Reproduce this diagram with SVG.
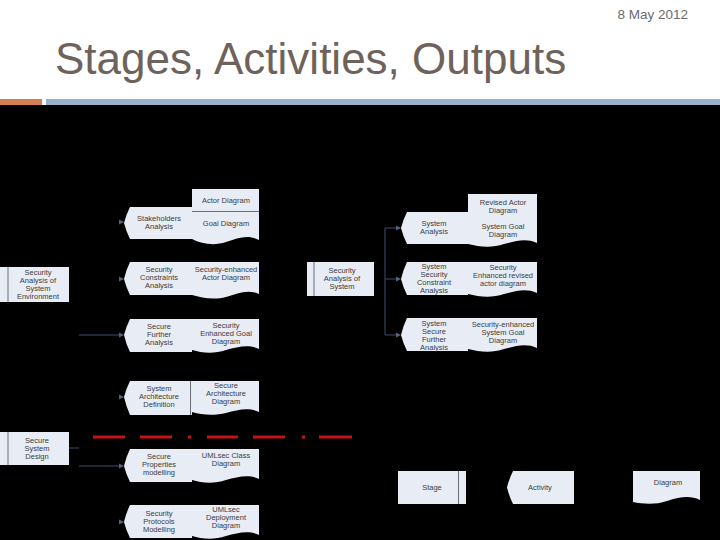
<svg xmlns="http://www.w3.org/2000/svg" width="720" height="540" viewBox="0 0 720 540">
<style>
.b{fill:#e8ecf5;stroke:none}
.t{font-family:"Liberation Sans",Arial,sans-serif;font-size:7.5px;fill:#3c3c3c;text-anchor:middle}
.sl{stroke:#6a6e78;stroke-width:1}
.c{stroke:#3e4c6c;stroke-width:1;fill:none}
.ah{fill:#52627f}
.rd{stroke:#c41414;stroke-width:3}
</style>
<rect x="0" y="0" width="720" height="540" fill="#ffffff"/>
<rect x="0" y="105" width="720" height="435" fill="#000000"/>
<rect x="0" y="99" width="42" height="6" fill="#d2804f"/>
<rect x="46" y="99" width="674" height="6" fill="#97b1cf"/>
<text x="688" y="19" font-family="Liberation Sans,Arial,sans-serif" font-size="13.5" fill="#6b6b6b" text-anchor="end">8 May 2012</text>
<text x="55" y="74" font-family="Liberation Sans,Arial,sans-serif" font-size="44" fill="#6e625b">Stages, Activities, Outputs</text>

<g id="connectors">
<line class="c" x1="79" y1="335" x2="119" y2="335"/>
<line class="c" x1="69" y1="448" x2="79" y2="448"/>
<line class="c" x1="79" y1="466" x2="119" y2="466"/>
<line class="c" x1="385" y1="228" x2="385" y2="335"/>
<line class="c" x1="385" y1="228" x2="397" y2="228"/>
<line class="c" x1="385" y1="279" x2="397" y2="279"/>
<line class="c" x1="385" y1="335" x2="397" y2="335"/>
<path class="ah" d="M119,219.5 L124,222 L119,224.5Z"/>
<path class="ah" d="M119,276.5 L124,279 L119,281.5Z"/>
<path class="ah" d="M119,332.5 L124,335 L119,337.5Z"/>
<path class="ah" d="M119,394.5 L124,397 L119,399.5Z"/>
<path class="ah" d="M119,463.5 L124,466 L119,468.5Z"/>
<path class="ah" d="M119,519.5 L124,522 L119,524.5Z"/>
<path class="ah" d="M396,225.5 L401,228 L396,230.5Z"/>
<path class="ah" d="M396,276.5 L401,279 L396,281.5Z"/>
<path class="ah" d="M396,332.5 L401,335 L396,337.5Z"/>
<line class="rd" x1="93" y1="437" x2="125" y2="437"/>
<line class="rd" x1="140" y1="437" x2="172" y2="437"/>
<line class="rd" x1="188" y1="437" x2="191" y2="437"/>
<line class="rd" x1="207" y1="437" x2="238" y2="437"/>
<line class="rd" x1="253" y1="437" x2="285" y2="437"/>
<line class="rd" x1="302" y1="437" x2="305" y2="437"/>
<line class="rd" x1="319" y1="437" x2="352" y2="437"/>
</g>

<!-- Stages -->
<g id="stage-env">
<rect class="b" x="0" y="267" width="69" height="35"/>
<line class="sl" x1="8" y1="267" x2="8" y2="302"/>
<text class="t" x="38" y="275">Security</text><text class="t" x="38" y="283">Analysis of</text><text class="t" x="38" y="291">System</text><text class="t" x="38" y="299">Environment</text>
</g>
<g id="stage-sys">
<rect class="b" x="307" y="262" width="67" height="34"/>
<line class="sl" x1="314" y1="262" x2="314" y2="296"/>
<text class="t" x="342" y="273">Security</text><text class="t" x="342" y="281">Analysis of</text><text class="t" x="342" y="289">System</text>
</g>
<g id="stage-design">
<rect class="b" x="0" y="432" width="69" height="33"/>
<line class="sl" x1="8" y1="432" x2="8" y2="465"/>
<text class="t" x="37" y="443">Secure</text><text class="t" x="37" y="451">System</text><text class="t" x="37" y="459">Design</text>
</g>

<!-- Left activities + outputs -->
<g id="stakeholders">
<path class="b" d="M192,189 H259 V240 C248,234 238,238 226,242 C214,246 202,244 192,239 V239 H130 Q126,231 124,223 Q126,215 130,207 H192Z"/>
<line class="sl" x1="192" y1="211.5" x2="259" y2="211.5"/>
<text class="t" x="159" y="221">Stakeholders</text><text class="t" x="159" y="229">Analysis</text>
<text class="t" x="226" y="203">Actor Diagram</text>
<text class="t" x="226" y="226">Goal Diagram</text>
</g>
<g id="constraints">
<path class="b" d="M130,262 H259 V294 C248,289 238,293 226,297 C214,300 202,298 192,295 H130 Q126,287 124,279 Q126,270 130,262Z"/>
<text class="t" x="159" y="272">Security</text><text class="t" x="159" y="280">Constraints</text><text class="t" x="159" y="288">Analysis</text>
<text class="t" x="226" y="272">Security-enhanced</text><text class="t" x="226" y="280">Actor Diagram</text>
</g>
<g id="further">
<path class="b" d="M130,319 H259 V349 C248,344 238,347 226,350 C214,354 202,353 192,350 V352 H130 Q126,344 124,335 Q126,327 130,319Z"/>
<text class="t" x="159" y="329">Secure</text><text class="t" x="159" y="337">Further</text><text class="t" x="159" y="345">Analysis</text>
<text class="t" x="226" y="328">Security</text><text class="t" x="226" y="336">Enhanced Goal</text><text class="t" x="226" y="344">Diagram</text>
</g>
<g id="architecture">
<path class="b" d="M130,381 H259 V412 C248,407 238,410 226,413 C214,416 202,415 192,412 V415 H130 Q126,406 124,397 Q126,389 130,381Z"/>
<line class="sl" x1="190.5" y1="381" x2="190.5" y2="415"/>
<text class="t" x="159" y="391">System</text><text class="t" x="159" y="399">Architecture</text><text class="t" x="159" y="407">Definition</text>
<text class="t" x="226" y="388">Secure</text><text class="t" x="226" y="396">Architecture</text><text class="t" x="226" y="404">Diagram</text>
</g>
<g id="properties">
<path class="b" d="M130,449 H259 V479 C248,474 238,477 226,480 C214,484 202,483 192,480 V482 H130 Q126,474 124,466 Q126,457 130,449Z"/>
<text class="t" x="159" y="459">Secure</text><text class="t" x="159" y="467">Properties</text><text class="t" x="159" y="475">modelling</text>
<text class="t" x="226" y="458">UMLsec Class</text><text class="t" x="226" y="466">Diagram</text>
</g>
<g id="protocols">
<path class="b" d="M130,505 H259 V535 C248,530 238,533 226,536 C214,540 202,539 192,536 V538 H130 Q126,530 124,522 Q126,513 130,505Z"/>
<text class="t" x="159" y="516">Security</text><text class="t" x="159" y="524">Protocols</text><text class="t" x="159" y="532">Modelling</text>
<text class="t" x="226" y="512">UMLsec</text><text class="t" x="226" y="520">Deployment</text><text class="t" x="226" y="528">Diagram</text>
</g>

<!-- Right activities + outputs -->
<g id="sys-analysis">
<path class="b" d="M468,194 H537 V243 C526,238 516,241 504,244 C492,248 480,247 468,244 H407 Q403,236 401,228 Q403,220 407,212 H468Z"/>
<text class="t" x="434" y="226">System</text><text class="t" x="434" y="234">Analysis</text>
<text class="t" x="503" y="205">Revised Actor</text><text class="t" x="503" y="213">Diagram</text>
<text class="t" x="503" y="229">System Goal</text><text class="t" x="503" y="237">Diagram</text>
</g>
<g id="sys-constraint">
<path class="b" d="M407,262 H537 V293 C526,288 516,291 504,294 C492,298 480,297 468,294 V295 H407 Q403,287 401,279 Q403,270 407,262Z"/>
<text class="t" x="434" y="269">System</text><text class="t" x="434" y="277">Security</text><text class="t" x="434" y="285">Constraint</text><text class="t" x="434" y="293">Analysis</text>
<text class="t" x="503" y="270">Security</text><text class="t" x="503" y="278">Enhanced revised</text><text class="t" x="503" y="286">actor diagram</text>
</g>
<g id="sys-further">
<path class="b" d="M407,318 H537 V348 C526,343 516,346 504,349 C492,353 480,352 468,349 V351 H407 Q403,343 401,335 Q403,326 407,318Z"/>
<text class="t" x="434" y="326">System</text><text class="t" x="434" y="334">Secure</text><text class="t" x="434" y="342">Further</text><text class="t" x="434" y="350">Analysis</text>
<text class="t" x="503" y="327">Security-enhanced</text><text class="t" x="503" y="335">System Goal</text><text class="t" x="503" y="343">Diagram</text>
</g>

<!-- Legend -->
<g id="legend-stage">
<rect class="b" x="398" y="471" width="68" height="33"/>
<line class="sl" x1="458.5" y1="471" x2="458.5" y2="504"/>
<text class="t" x="432" y="490">Stage</text>
</g>
<g id="legend-activity">
<path class="b" d="M513,471 H574 V504 H513 Q509,496 507,487.5 Q509,479 513,471Z"/>
<text class="t" x="540" y="490">Activity</text>
</g>
<g id="legend-diagram">
<path class="b" d="M633,471 H700 V500 C690,495 680,497 667,501 C655,505 643,504 633,502Z"/>
<text class="t" x="668" y="485">Diagram</text>
</g>
</svg>
